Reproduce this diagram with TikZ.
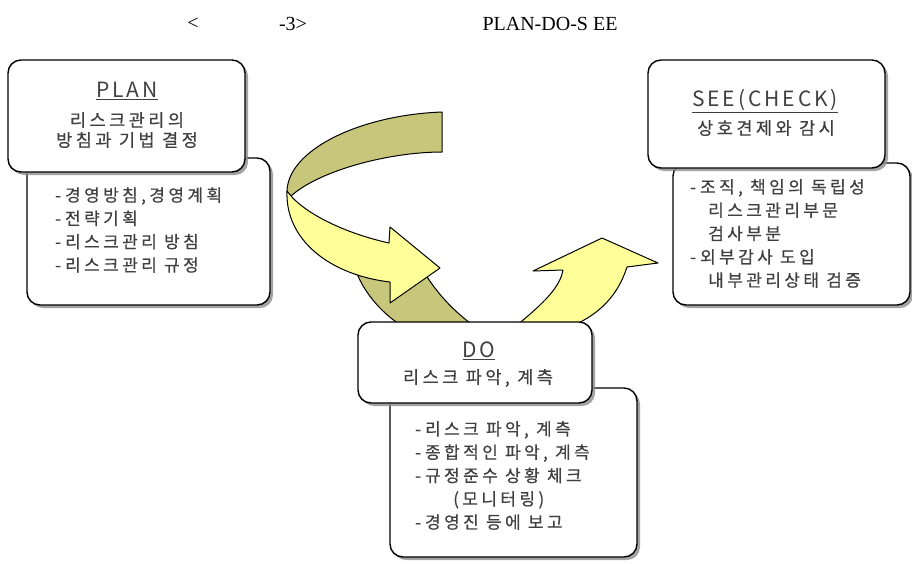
\documentclass[tikz,border=0pt]{standalone}
\usepackage{fontspec}
\setmainfont{Liberation Serif}
\newfontfamily\kr[LetterSpace=20,FakeBold=0.5]{Noto Sans CJK KR}
\newfontfamily\krhead[LetterSpace=14]{Noto Sans CJK KR}
\usetikzlibrary{shadows}
\definecolor{bandbackc}{HTML}{C8C67A}
\definecolor{bandfrontc}{HTML}{FFFF99}
\definecolor{textgrayc}{HTML}{404040}
\newcommand{\dashitem}{-\hspace{4pt}}
\tikzset{
  boxshape/.style={draw=black, line width=1.4pt, rounded corners=13pt, fill=white,
    inner sep=0pt, outer sep=0pt,
    drop shadow={shadow xshift=3pt, shadow yshift=-3pt, fill=black!45, opacity=0.8}},
  bandback/.style={fill=bandbackc, draw=black, line width=1pt, line join=round},
  bandfront/.style={fill=bandfrontc, draw=black, line width=1pt, line join=round},
  headtext/.style={font=\krhead\fontsize{21}{24}\selectfont, text=textgrayc, inner sep=0pt},
  subtext/.style={font=\kr\fontsize{17.5}{20}\selectfont, text=textgrayc, align=center, inner sep=0pt},
  listtext/.style={font=\kr\fontsize{17}{23.3}\selectfont, text=textgrayc, align=left,
    anchor=west, inner sep=0pt},
  titletext/.style={font=\fontsize{20}{24}\selectfont, text=black, inner sep=0pt}
}
\begin{document}
\begin{tikzpicture}[x=1pt,y=-1pt]
\useasboundingbox (0,0) rectangle (912,563);
% title
\node[titletext] (tlt) at (193,24) {<};
\node[titletext] (tnum) at (293,24) {-3>};
\node[titletext] (tpds) at (550,24) {PLAN-DO-S EE};

% PLAN boxes
\node[boxshape, minimum width=243pt, minimum height=147pt] (planbot) at (148.5,231.5) {};
\node[boxshape, minimum width=237pt, minimum height=112pt] (plantop) at (126.5,116) {};
\node[headtext] (planhead) at (127,91) {\underline{PLAN}};
\node[subtext] (plansub) at (127,130) {리스크관리의\\방침과 기법 결정};
\node[listtext] (planlist) at (55,230) {\dashitem 경영방침,경영계획\\\dashitem 전략기획\\\dashitem 리스크관리 방침\\\dashitem 리스크관리 규정};

% SEE boxes
\node[boxshape, minimum width=237pt, minimum height=142pt] (seebot) at (791.5,234) {};
\node[boxshape, minimum width=237pt, minimum height=108pt] (seetop) at (766.5,114) {};
\node[headtext] (seehead) at (765,101) {\underline{SEE(CHECK)}};
\node[subtext] (seesub) at (766,128) {상호견제와 감시};
\node[listtext] (seelist) at (690,233.5) {\dashitem 조직, 책임의 독립성\\\hspace*{18pt}리스크관리부문\\\hspace*{18pt}검사부분\\\dashitem 외부감사 도입\\\hspace*{18pt}내부관리상태 검증};

% arrows (bands)
\draw[bandback] (355,268) .. controls (362,290) and (380,312) .. (402,326)
  -- (474,326) .. controls (455,312) and (438,295) .. (424,272) -- cycle;
\draw[bandback] (442,112) .. controls (360,115) and (287,150) .. (287,192)
  -- (291,196) .. controls (320,170) and (390,152) .. (442,152) -- cycle;
\draw[bandfront] (287,191) .. controls (285,240) and (330,275) .. (390,282)
  -- (390,303) -- (440,268) -- (390,227) -- (389,243)
  .. controls (340,232) and (305,212) .. (291,196) -- cycle;
\draw[bandfront] (516,326) .. controls (545,302) and (560,287) .. (563,270)
  -- (533,271) -- (602,238) -- (658,263) -- (627,267)
  .. controls (618,295) and (600,314) .. (572,326) -- cycle;

% DO boxes
\node[boxshape, minimum width=247pt, minimum height=169pt] (dobot) at (513.5,472.5) {};
\node[boxshape, minimum width=234pt, minimum height=81pt] (dotop) at (475,362.5) {};
\node[headtext] (dohead) at (479,351) {\underline{DO}};
\node[subtext] (dosub) at (478,378) {리스크 파악, 계측};
\node[listtext] (dolist) at (415,475.5) {\dashitem 리스크 파악, 계측\\\dashitem 종합적인 파악, 계측\\\dashitem 규정준수 상황 체크\\\hspace*{38pt}(모니터링)\\\dashitem 경영진 등에 보고};
\end{tikzpicture}
\end{document}
